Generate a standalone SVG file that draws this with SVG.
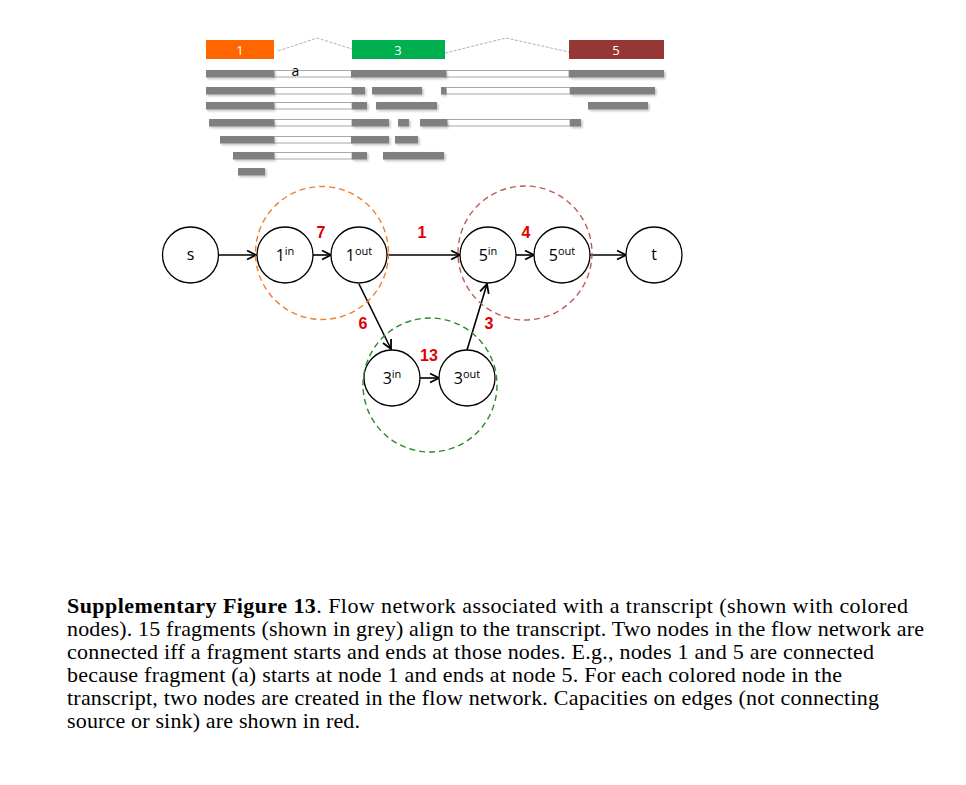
<svg xmlns="http://www.w3.org/2000/svg" width="966" height="785" viewBox="0 0 966 785">
<style>
.bar{fill:#808080;filter:url(#sh)}
.lnk{fill:#fff;stroke:#a8a8a8;stroke-width:1}
.intr{fill:none;stroke:#b3acc9;stroke-width:1;stroke-dasharray:3 1.5}
.ex{font-family:"Open Sans","Liberation Sans",sans-serif;font-size:13px;fill:#fff;text-anchor:middle}
.node circle{fill:#fff;stroke:#000;stroke-width:1.3}
.node text{font-family:"Open Sans","Liberation Sans",sans-serif;font-size:16px;fill:#000;text-anchor:middle}
.sup{font-size:11px}
.edge{stroke:#000;stroke-width:1.6;fill:none;marker-end:url(#ah)}
.cap{fill:#e00000;font-family:"Liberation Sans",sans-serif;font-weight:bold;font-size:16px;text-anchor:middle}
.dc{fill:none;stroke-width:1.4;stroke-dasharray:6 4}
.caption{font-family:"Liberation Serif",serif;font-size:22px;fill:#000}
</style>
<defs>
<filter id="sh" x="-10%" y="-50%" width="130%" height="250%">
<feDropShadow dx="1.5" dy="1.5" stdDeviation="1" flood-color="#000" flood-opacity="0.25"/>
</filter>
<marker id="ah" viewBox="0 0 10 10" refX="9" refY="5" markerWidth="7" markerHeight="7" orient="auto" markerUnits="strokeWidth">
<path d="M1,1 L9,5 L1,9" fill="none" stroke="#000" stroke-width="1.6"/>
</marker>
</defs>
<rect width="966" height="785" fill="#fff"/>

<g id="transcript">
<polyline class="intr" points="278,51 317,38 352,49"/>
<polyline class="intr" points="445,53 506,38 569,52"/>
<rect x="206" y="40" width="68" height="19" fill="#ff6600"/>
<text class="ex" x="240" y="55">1</text>
<rect x="352" y="40" width="93" height="19" fill="#00b050"/>
<text class="ex" x="398" y="55">3</text>
<rect x="569" y="40" width="95" height="19" fill="#953735"/>
<text class="ex" x="616" y="55">5</text>
</g>

<g id="fragments">
<rect class="lnk" x="274" y="70.5" width="78" height="6.5"/>
<rect class="lnk" x="446" y="70.5" width="123" height="6.5"/>
<rect class="bar" x="206" y="70" width="68" height="7.5"/>
<rect class="bar" x="351" y="70" width="95" height="7.5"/>
<rect class="bar" x="569" y="70" width="95" height="7.5"/>
<text x="295.5" y="76" font-family="'Open Sans','Liberation Sans',sans-serif" font-size="14" text-anchor="middle" fill="#000">a</text>

<rect class="lnk" x="274" y="87.5" width="78" height="6.5"/>
<rect class="lnk" x="446" y="87.5" width="124" height="6.5"/>
<rect class="bar" x="206" y="87" width="68" height="7.5"/>
<rect class="bar" x="352" y="87" width="13" height="7.5"/>
<rect class="bar" x="372" y="87" width="50" height="7.5"/>
<rect class="bar" x="441" y="87" width="5" height="7.5"/>
<rect class="bar" x="570" y="87" width="85" height="7.5"/>

<rect class="lnk" x="274" y="102.5" width="78" height="6.5"/>
<rect class="bar" x="206" y="102" width="68" height="7.5"/>
<rect class="bar" x="352" y="102" width="15" height="7.5"/>
<rect class="bar" x="376" y="102" width="61" height="7.5"/>
<rect class="bar" x="588" y="102" width="60" height="7.5"/>

<rect class="lnk" x="274" y="119.5" width="78" height="6.5"/>
<rect class="lnk" x="447" y="119.5" width="123" height="6.5"/>
<rect class="bar" x="209" y="119" width="65" height="7.5"/>
<rect class="bar" x="352" y="119" width="37" height="7.5"/>
<rect class="bar" x="398" y="119" width="11" height="7.5"/>
<rect class="bar" x="420" y="119" width="27" height="7.5"/>
<rect class="bar" x="570" y="119" width="11" height="7.5"/>

<rect class="lnk" x="274" y="136.5" width="78" height="6.5"/>
<rect class="bar" x="220" y="136" width="54" height="7.5"/>
<rect class="bar" x="351" y="136" width="38" height="7.5"/>
<rect class="bar" x="395" y="136" width="23" height="7.5"/>

<rect class="lnk" x="274" y="152.5" width="78" height="6.5"/>
<rect class="bar" x="233" y="152" width="41" height="7.5"/>
<rect class="bar" x="352" y="152" width="15" height="7.5"/>
<rect class="bar" x="383" y="152" width="61" height="7.5"/>

<rect class="bar" x="238" y="168" width="27" height="7.5"/>
</g>

<g id="connectors">
<line class="edge" x1="218" y1="255" x2="256" y2="255"/>
<line class="edge" x1="313" y1="255" x2="331" y2="255"/>
<line class="edge" x1="387" y1="255" x2="460" y2="255"/>
<line class="edge" x1="516" y1="255" x2="534" y2="255"/>
<line class="edge" x1="590" y1="255" x2="626" y2="255"/>
<line class="edge" x1="359" y1="284" x2="391" y2="349"/>
<line class="edge" x1="420" y1="378" x2="439" y2="378"/>
<line class="edge" x1="467" y1="350" x2="487" y2="284"/>
</g>

<g id="capacities">
<text class="cap" x="321" y="238">7</text>
<text class="cap" x="422" y="238">1</text>
<text class="cap" x="526" y="238">4</text>
<text class="cap" x="363" y="329">6</text>
<text class="cap" x="489" y="329">3</text>
<text class="cap" x="429" y="361">13</text>
</g>

<g id="node-s" class="node"><circle cx="190.5" cy="255" r="28"/><text x="190.5" y="260">s</text></g>
<g id="node-1in" class="node"><circle cx="285" cy="255" r="28"/><text x="285" y="261">1<tspan class="sup" dy="-6">in</tspan></text></g>
<g id="node-1out" class="node"><circle cx="359" cy="255" r="28"/><text x="359" y="261">1<tspan class="sup" dy="-6">out</tspan></text></g>
<g id="node-5in" class="node"><circle cx="488" cy="255" r="28"/><text x="488" y="261">5<tspan class="sup" dy="-6">in</tspan></text></g>
<g id="node-5out" class="node"><circle cx="562" cy="255" r="28"/><text x="562" y="261">5<tspan class="sup" dy="-6">out</tspan></text></g>
<g id="node-t" class="node"><circle cx="654" cy="255" r="28"/><text x="654" y="260">t</text></g>
<g id="node-3in" class="node"><circle cx="392" cy="378" r="28"/><text x="392" y="384">3<tspan class="sup" dy="-6">in</tspan></text></g>
<g id="node-3out" class="node"><circle cx="467" cy="378" r="28"/><text x="467" y="384">3<tspan class="sup" dy="-6">out</tspan></text></g>

<g id="groups">
<circle class="dc" cx="322" cy="253" r="66.5" stroke="#f07f30"/>
<circle class="dc" cx="525" cy="253" r="67" stroke="#bf5b57"/>
<circle class="dc" cx="430" cy="385" r="67" stroke="#2a8a2a"/>
</g>

<g id="caption" class="caption">
<text x="67" y="613" textLength="841" lengthAdjust="spacing"><tspan font-weight="bold">Supplementary Figure 13</tspan>. Flow network associated with a transcript (shown with colored</text>
<text x="67" y="636" textLength="857" lengthAdjust="spacing">nodes). 15 fragments (shown in grey) align to the transcript. Two nodes in the flow network are</text>
<text x="67" y="659" textLength="807" lengthAdjust="spacing">connected iff a fragment starts and ends at those nodes. E.g., nodes 1 and 5 are connected</text>
<text x="67" y="682" textLength="775" lengthAdjust="spacing">because fragment (a) starts at node 1 and ends at node 5. For each colored node in the</text>
<text x="67" y="705" textLength="812" lengthAdjust="spacing">transcript, two nodes are created in the flow network. Capacities on edges (not connecting</text>
<text x="67" y="728" textLength="293" lengthAdjust="spacing">source or sink) are shown in red.</text>
</g>
</svg>
